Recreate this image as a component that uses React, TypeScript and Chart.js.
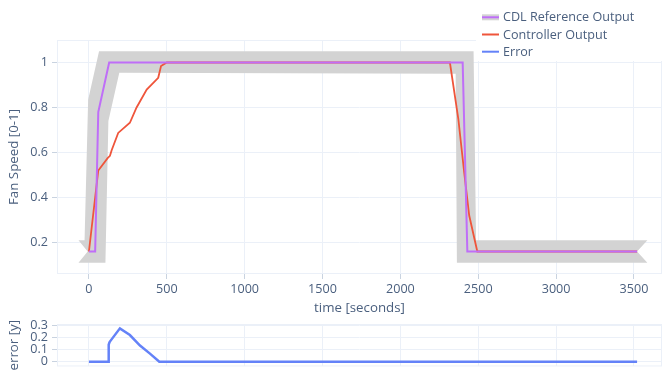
import React, { useEffect, useRef } from "react";
import { Chart, registerables } from "chart.js";

Chart.register(...registerables);

// CDL reference output (fan speed, 0-1) over time in seconds
const refTime = [0, 40, 60, 130, 2400, 2430, 3520];
const refSpeed = [0.16, 0.16, 0.78, 1, 1, 0.16, 0.16];

// Controller output
const ctrlTime = [0, 60, 120, 135, 146, 188, 263, 306, 371, 445, 463, 500, 2318, 2372, 2410, 2442, 2494, 3520];
const ctrlSpeed = [0.16, 0.52, 0.575, 0.585, 0.61, 0.687, 0.732, 0.8, 0.88, 0.932, 0.984, 1, 1, 0.75, 0.51, 0.32, 0.16, 0.16];

// Outline of the tolerance band drawn around the reference
const bandTime = [-67, -28, -5, 65, 2470, 2486, 3586, 3520, 3586, 2363, 2355, 195, 125, 106, -67, -8];
const bandSpeed = [0.21, 0.21, 0.835, 1.05, 1.05, 0.21, 0.21, 0.16, 0.11, 0.11, 0.95, 0.955, 0.74, 0.11, 0.11, 0.16];

// Error of the controller output outside the tolerance band
const errTime = [0, 124, 127, 132, 137, 199, 263, 328, 392, 452, 3520];
const errValue = [0, 0, 0.14, 0.16, 0.17, 0.275, 0.22, 0.133, 0.067, 0, 0];

// Axis ticks
const timeTicks = [0, 500, 1000, 1500, 2000, 2500, 3000, 3500];
const timeLabels = ["0", "500", "1000", "1500", "2000", "2500", "3000", "3500"];
const speedTicks = [0.2, 0.4, 0.6, 0.8, 1];
const speedLabels = ["0.2", "0.4", "0.6", "0.8", "1"];
const errorTicks = [0, 0.1, 0.2, 0.3];
const errorLabels = ["0", "0.1", "0.2", "0.3"];

const seriesNames = ["CDL Reference Output", "Controller Output", "Error"];

const FAMILY = "'Open Sans', 'Noto Sans', sans-serif";
const TEXT = "#4a5f7e";
const GRID = "#ebf0f8";
const TICK = "#c9d3e0";
const BAND = "#d3d3d3";
const PURPLE = "#bf6ef8";
const RED = "#ef553b";
const BLUE = "#6482f8";

const W = 662;
const MAIN_H = 318;
const SUB_TOP = 296;
const SUB_H = 378 - SUB_TOP;
const AXIS_W = 57;

const pts = (xs: number[], ys: number[]) => xs.map((x, i) => ({ x, y: ys[i] }));

const frame = {
  id: "frame",
  beforeDatasetsDraw(chart: any) {
    const { ctx, chartArea: a } = chart;
    ctx.save();
    ctx.strokeStyle = GRID;
    ctx.lineWidth = 1;
    ctx.strokeRect(a.left + 0.5, a.top + 0.5, a.right - a.left - 1, a.bottom - a.top - 1);
    ctx.restore();
  },
};

const legend = {
  id: "sideLegend",
  afterDraw(chart: any) {
    const { ctx } = chart;
    ctx.save();
    ctx.fillStyle = "#ffffff";
    ctx.fillRect(476, 4, W - 476, 57);
    const rows = [17.3, 34.5, 51.7];
    const x0 = 482;
    const x1 = 499;
    // reference: band swatch with line
    ctx.fillStyle = BAND;
    ctx.fillRect(x0, rows[0] - 3, x1 - x0, 6);
    const colors = [PURPLE, RED, BLUE];
    rows.forEach((y, i) => {
      ctx.strokeStyle = colors[i];
      ctx.lineWidth = 2;
      ctx.beginPath();
      ctx.moveTo(x0, y);
      ctx.lineTo(x1, y);
      ctx.stroke();
      ctx.fillStyle = TEXT;
      ctx.font = `12.6px ${FAMILY}`;
      ctx.textBaseline = "middle";
      ctx.textAlign = "left";
      ctx.fillText(seriesNames[i], 503, y + 0.5);
    });
    ctx.restore();
  },
};

const tickFont = { family: FAMILY, size: 12.6 };
const titleFont = { family: FAMILY, size: 13.3 };

export default function App() {
  const mainRef = useRef<HTMLCanvasElement | null>(null);
  const subRef = useRef<HTMLCanvasElement | null>(null);

  useEffect(() => {
    const main = new Chart(mainRef.current as HTMLCanvasElement, {
      type: "scatter",
      data: {
        datasets: [
          {
            label: seriesNames[0],
            data: pts(refTime, refSpeed),
            showLine: true,
            borderColor: PURPLE,
            borderWidth: 2,
            pointRadius: 0,
            tension: 0,
          },
          {
            label: seriesNames[1],
            data: pts(ctrlTime, ctrlSpeed),
            showLine: true,
            borderColor: RED,
            borderWidth: 1.8,
            pointRadius: 0,
            tension: 0,
          },
          {
            label: "band",
            data: pts(bandTime, bandSpeed),
            showLine: true,
            borderWidth: 0,
            borderColor: "rgba(0,0,0,0)",
            backgroundColor: BAND,
            fill: "shape",
            pointRadius: 0,
            tension: 0,
          },
        ],
      },
      options: {
        animation: false,
        responsive: false,
        events: [],
        layout: { padding: { top: 40, left: 0, right: 0, bottom: 0 } },
        plugins: { legend: { display: false }, tooltip: { enabled: false } },
        scales: {
          x: {
            type: "linear",
            min: -205,
            max: 3680,
            afterBuildTicks: (s: any) => {
              s.ticks = timeTicks.map((v) => ({ value: v }));
            },
            afterFit: (s: any) => {
              s.height = MAIN_H - 274;
            },
            ticks: {
              callback: (_v: any, i: number) => timeLabels[i],
              color: TEXT,
              font: tickFont,
              padding: 3,
              maxRotation: 0,
              autoSkip: false,
            },
            grid: { color: GRID, tickColor: TICK, tickLength: 5, drawTicks: true },
            border: { display: false },
            title: {
              display: true,
              text: "time [seconds]",
              color: TEXT,
              font: titleFont,
              padding: { top: 0, bottom: 2.2 },
            },
          },
          y: {
            type: "linear",
            min: 0.06,
            max: 1.1,
            afterBuildTicks: (s: any) => {
              s.ticks = speedTicks.map((v) => ({ value: v }));
            },
            afterFit: (s: any) => {
              s.width = AXIS_W;
            },
            ticks: {
              callback: (_v: any, i: number) => speedLabels[i],
              color: TEXT,
              font: tickFont,
              padding: 4,
              autoSkip: false,
            },
            grid: { color: GRID, tickColor: TICK, tickLength: 5, drawTicks: true },
            border: { display: false },
            title: {
              display: true,
              text: "Fan Speed [0-1]",
              color: TEXT,
              font: titleFont,
              padding: { top: 6, bottom: 0 },
            },
          },
        },
      },
      plugins: [frame, legend],
    } as any);

    const sub = new Chart(subRef.current as HTMLCanvasElement, {
      type: "scatter",
      data: {
        datasets: [
          {
            label: seriesNames[2],
            data: pts(errTime, errValue),
            showLine: true,
            borderColor: BLUE,
            borderWidth: 2.5,
            pointRadius: 0,
            tension: 0,
          },
        ],
      },
      options: {
        animation: false,
        responsive: false,
        events: [],
        layout: { padding: { top: 324 - SUB_TOP, left: 0, right: 0, bottom: 0 } },
        plugins: { legend: { display: false }, tooltip: { enabled: false } },
        scales: {
          x: {
            type: "linear",
            min: -205,
            max: 3680,
            afterBuildTicks: (s: any) => {
              s.ticks = timeTicks.map((v) => ({ value: v }));
            },
            afterFit: (s: any) => {
              s.height = 0;
            },
            ticks: { display: false },
            grid: { color: GRID, drawTicks: false },
            border: { display: false },
          },
          y: {
            type: "linear",
            min: -0.039,
            max: 0.311,
            afterBuildTicks: (s: any) => {
              s.ticks = errorTicks.map((v) => ({ value: v }));
            },
            afterFit: (s: any) => {
              s.width = AXIS_W;
            },
            ticks: {
              callback: (_v: any, i: number) => errorLabels[i],
              color: TEXT,
              font: tickFont,
              padding: 4,
              autoSkip: false,
            },
            grid: { color: GRID, tickColor: TICK, tickLength: 5, drawTicks: true },
            border: { display: false },
            title: {
              display: true,
              text: "error [y]",
              color: TEXT,
              font: titleFont,
              padding: { top: 6, bottom: 0 },
            },
          },
        },
      },
      plugins: [frame],
    } as any);

    return () => {
      main.destroy();
      sub.destroy();
    };
  }, []);

  return (
    <div style={{ position: "absolute", left: 0, top: 0, width: W, height: 378, background: "#fff" }}>
      <canvas ref={mainRef} width={W} height={MAIN_H} style={{ display: "block", position: "absolute", left: 0, top: 0 }} />
      <canvas ref={subRef} width={W} height={SUB_H} style={{ display: "block", position: "absolute", left: 0, top: SUB_TOP }} />
    </div>
  );
}
